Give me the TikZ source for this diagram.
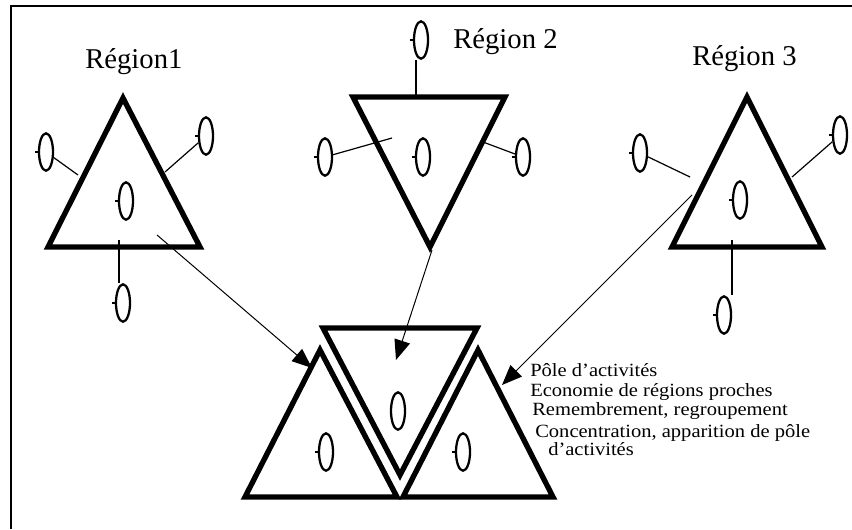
\documentclass[tikz,border=0pt]{standalone}
\usepackage{fontspec}
\setmainfont{Liberation Serif}
\newfontfamily\notefont[FakeStretch=1.1]{Liberation Serif}
\usetikzlibrary{shapes.geometric,arrows.meta}
\begin{document}
\begin{tikzpicture}[x=0.75pt,y=-0.75pt,
  tri/.style={line width=4pt, line join=miter},
  zero/.style={ellipse, draw, line width=1.7pt, minimum width=10.5pt, minimum height=28pt, inner sep=0pt},
  link/.style={line width=0.9pt},
  arr/.style={line width=0.75pt, -{Triangle[length=15pt,width=12pt]}},
  lbl/.style={font=\fontsize{21.5}{24}\selectfont, anchor=base west, inner sep=0pt},
  note/.style={font=\notefont\fontsize{14}{16}\selectfont, anchor=base west, inner sep=0pt}]

\useasboundingbox (0,0) rectangle (852,529);
\draw[line width=1.5pt] (11,529) -- (11,6) -- (852,6);

% labels
\node[lbl] (lab1) at (85,68) {Région1};
\node[lbl] (lab2) at (453,48) {Région 2};
\node[lbl] (lab3) at (692,65) {Région 3};

% Region 1
\draw[tri] (123,98) -- (48,247) -- (200,247) -- cycle;
\node[zero] (r1c) at (126,201) {};
\node[zero] (r1l) at (46,152) {};
\node[zero] (r1r) at (206,136) {};
\node[zero] (r1b) at (123,303) {};
\coordinate (e1l) at (78,175);
\coordinate (e1r) at (165,172);
\coordinate (e1b) at (119,240);
\draw[link] (r1l) -- (e1l);
\draw[link] (r1r) -- (e1r);
\draw[link] (e1b) -- (e1b |- r1b.north);

% Region 2
\draw[tri] (353,97) -- (505,97) -- (430,247) -- cycle;
\node[zero] (r2c) at (423,157) {};
\node[zero] (r2t) at (421,40) {};
\node[zero] (r2l) at (325,157) {};
\node[zero] (r2r) at (523,157) {};
\coordinate (e2t) at (416,97);
\coordinate (e2l) at (392,138);
\coordinate (e2r) at (483,142);
\draw[link] (e2t) -- (e2t |- r2t.south);
\draw[link] (r2l) -- (e2l);
\draw[link] (r2r) -- (e2r);

% Region 3
\draw[tri] (747,97) -- (672,247) -- (822,247) -- cycle;
\node[zero] (r3c) at (740,200) {};
\node[zero] (r3l) at (640,153) {};
\node[zero] (r3r) at (840,135) {};
\node[zero] (r3b) at (724,315) {};
\coordinate (e3l) at (690,177);
\coordinate (e3r) at (792,177);
\coordinate (e3b) at (732,240);
\draw[link] (r3l) -- (e3l);
\draw[link] (r3r) -- (e3r);
\draw[link] (e3b) -- (e3b |- r3b.north);

% bottom group
\draw[tri] (320,350) -- (245,497) -- (397,497) -- cycle;
\draw[tri] (323,328) -- (477,328) -- (400,475) -- cycle;
\draw[tri] (478,350) -- (403,497) -- (553,497) -- cycle;
\node[zero] (bl) at (326,452) {};
\node[zero] (bm) at (398,411) {};
\node[zero] (br) at (463,452) {};

% small ticks on the zeros
\foreach \z in {r1c,r1l,r1r,r1b,r2c,r2t,r2l,r2r,r3c,r3l,r3r,r3b,bl,br}
  \draw[line width=1pt] (\z.west) -- ++(-2.5,0);

% arrows
\coordinate (s1) at (157,235);
\coordinate (t1) at (312,368);
\coordinate (s2) at (432,250);
\coordinate (t2) at (396,360);
\coordinate (s3) at (692,195);
\coordinate (t3) at (502,385);
\draw[arr] (s1) -- (t1);
\draw[arr] (s2) -- (t2);
\draw[arr] (s3) -- (t3);

% notes
\node[note] (n1) at (530,376) {Pôle d’activités};
\node[note] (n2) at (530,396) {Economie de régions proches};
\node[note] (n3) at (532,415) {Remembrement, regroupement};
\node[note] (n4) at (535,437) {Concentration, apparition de pôle};
\node[note] (n5) at (548,455) {d’activités};
\end{tikzpicture}
\end{document}
